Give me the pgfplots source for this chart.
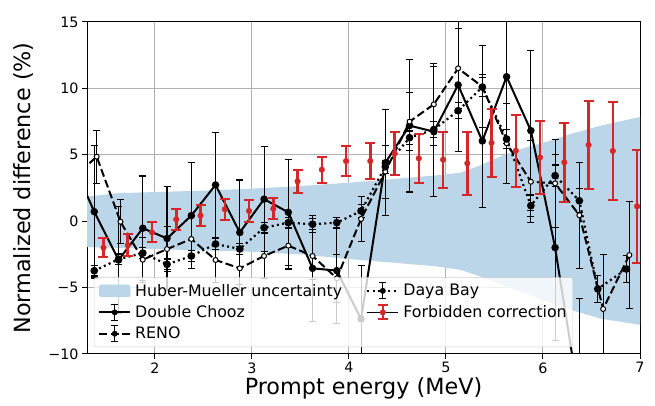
\documentclass[border=0pt]{standalone}
\usepackage{fontspec}
\setmainfont{DejaVu Sans}
\usepackage{pgfplots}
\usepackage{pgfplotstable}
\pgfplotsset{compat=1.18}
\usepgfplotslibrary{fillbetween}

\definecolor{hmblue}{RGB}{188,214,233}
\definecolor{fcred}{RGB}{214,39,40}
\definecolor{gridgray}{RGB}{176,176,176}
\definecolor{legedge}{RGB}{204,204,204}

% Huber-Mueller band
\pgfplotstableread{
x    hi    lo
1.2  1.85  -1.95
1.3  1.85  -1.95
1.6  2.10  -2.00
2.0  2.20  -2.10
2.5  2.30  -2.20
3.0  2.45  -2.30
3.5  2.65  -2.50
4.0  2.90  -2.85
4.5  3.20  -3.15
4.9  3.45  -3.40
5.15 3.65  -3.67
5.35 4.20  -4.15
5.6  5.00  -4.85
5.8  5.50  -5.40
6.0  5.90  -5.95
6.3  6.60  -6.70
6.6  7.20  -7.35
7.0  7.85  -7.80
}\hmtable

\pgfplotstableread{
x     y      e
1.125 4.80   5.0
1.375 0.72   5.0
1.625 -2.92  4.0
1.875 -0.53  3.93
2.125 -1.30  3.9
2.375 0.42   4.0
2.625 2.73   3.96
2.875 -0.85  3.95
3.125 1.66   3.95
3.375 0.67   4.0
3.625 -3.55  4.0
3.875 -3.72  4.0
4.125 -7.36  4.0
4.375 4.40   4.0
4.625 7.20   5.0
4.875 6.74   4.9
5.125 10.26  5.0
5.375 6.04   5.0
5.625 10.88  5.0
5.875 6.82   6.0
6.125 -1.99  7.0
6.375 -13.5  7.7
}\dctable

\pgfplotstableread{
x     y      e
1.15  3.20   2.0
1.40  4.86   2.0
1.645 -0.04  1.65
1.875 -2.90  1.7
2.125 -2.10  1.7
2.375 -1.34  1.7
2.625 -2.92  1.7
2.875 -3.55  1.65
3.125 -2.62  1.7
3.375 -1.84  1.76
3.625 -2.62  1.8
3.875 -4.30  1.8
4.125 0.17   1.7
4.375 3.73   2.0
4.625 7.50   2.2
4.875 8.80   3.1
5.125 11.51  3.0
5.375 10.13  3.1
5.625 5.87   3.0
5.875 2.97   3.1
6.125 2.85   3.3
6.375 0.45   4.0
6.62  -6.61  4.1
6.89  -2.55  4.0
}\renotable

\pgfplotstableread{
x     y      e
1.375 -3.73  0.4
1.625 -2.87  0.4
1.875 -2.40  0.4
2.125 -3.25  0.4
2.375 -2.62  0.4
2.625 -1.72  0.4
2.875 -2.09  0.4
3.125 -0.49  0.4
3.375 -0.11  0.4
3.625 -0.23  0.4
3.875 -0.11  0.4
4.125 0.77   0.5
4.375 4.10   0.5
4.625 6.29   0.5
4.875 6.90   0.6
5.125 8.32   0.6
5.375 10.10  0.7
5.625 6.19   0.7
5.875 1.17   0.8
6.125 3.43   0.8
6.375 1.54   0.9
6.565 -5.10  1.0
6.86  -3.60  1.0
}\dbtable

\pgfplotstableread{
x     y      e
1.47  -2.00  0.72
1.72  -1.80  0.80
1.97  -0.84  0.75
2.22  0.14   0.80
2.47  0.42   0.80
2.72  0.90   0.78
2.97  0.77   0.80
3.22  0.94   0.80
3.47  3.00   0.88
3.72  3.88   0.98
3.97  4.53   1.15
4.22  4.53   1.38
4.47  5.10   1.60
4.72  4.73   1.87
4.97  4.63   2.10
5.22  4.36   2.36
5.47  5.90   2.56
5.72  5.31   2.70
5.97  4.81   2.77
6.22  4.43   2.95
6.47  5.74   3.30
6.72  5.29   3.70
6.97  1.12   4.27
}\fctable

\begin{document}
\begin{tikzpicture}
\begin{axis}[
  at={(87pt,52pt)}, anchor=south west,
  scale only axis, width=553pt, height=332pt,
  set layers,
  xmin=1.3, xmax=7, ymin=-10, ymax=15,
  xtick={2,3,4,5,6,7},
  ytick={-10,-5,0,5,10,15},
  yticklabels={−10,−5,0,5,10,15},
  /pgf/number format/assume math mode=true,
  tick pos=left, tick align=outside,
  major tick length=5pt,
  every tick/.style={black, line width=1pt},
  axis line style={line width=1pt},
  grid=major,
  grid style={gridgray, line width=1pt},
  tick label style={font=\fontsize{14.3}{16}\selectfont},
  label style={font=\fontsize{22.3}{26}\selectfont},
  xlabel={Prompt energy (MeV)},
  ylabel={Normalized difference (\%)},
  xlabel style={at={(axis description cs:0.5,-0.102)}, anchor=center},
  ylabel style={at={(axis description cs:-0.114,0.5)}, anchor=center},
  legend columns=2,
  legend cell align=left,
  legend style={at={(0.0127,0.021)}, anchor=south west,
    draw=legedge, fill=white, fill opacity=0.8, text opacity=1,
    rounded corners=2pt, font=\fontsize{15.8}{19}\selectfont,
    inner xsep=4pt, inner ysep=4.5pt, row sep=4pt,
    /tikz/every odd column/.append style={column sep=2pt},
    /tikz/every even column/.append style={column sep=22pt}},
]

% band
\addplot[name path=hmtop, draw=none, forget plot] table[x=x, y=hi] {\hmtable};
\addplot[name path=hmbot, draw=none, forget plot] table[x=x, y=lo] {\hmtable};
\addplot[fill=hmblue, draw=none, forget plot, on layer=axis background]
  fill between[of=hmtop and hmbot];

% Double Chooz
\addplot[black, line width=2pt, mark=*, mark size=2.7pt, mark options={solid, fill=black},
  forget plot,
  error bars/.cd, y dir=both, y explicit,
  error bar style={line width=1.1pt, solid, black},
  error mark options={rotate=90, mark size=3.5pt, line width=1.1pt, solid, black}]
  table[x=x, y=y, y error=e] {\dctable};

% RENO
\addplot[black, line width=2pt, dash pattern=on 8pt off 3.5pt,
  mark=*, mark size=2.5pt, mark options={solid, fill=white, line width=1pt},
  forget plot,
  error bars/.cd, y dir=both, y explicit,
  error bar style={line width=1.1pt, solid, black},
  error mark options={rotate=90, mark size=3.5pt, line width=1.1pt, solid, black}]
  table[x=x, y=y, y error=e] {\renotable};

% Daya Bay
\addplot[black, line width=2.2pt, dash pattern=on 2pt off 3.3pt,
  mark=*, mark size=2.7pt, mark options={solid, fill=black},
  forget plot,
  error bars/.cd, y dir=both, y explicit,
  error bar style={line width=1.1pt, solid, black},
  error mark options={rotate=90, mark size=3.5pt, line width=1.1pt, solid, black}]
  table[x=x, y=y, y error=e] {\dbtable};

% Forbidden correction
\addplot[only marks, fcred, mark=*, mark size=2.8pt, mark options={fill=fcred},
  forget plot,
  error bars/.cd, y dir=both, y explicit,
  error bar style={line width=2.5pt, fcred},
  error mark options={rotate=90, mark size=5pt, line width=2pt, fcred}]
  table[x=x, y=y, y error=e] {\fctable};

% legend (row-wise: HM, DB / DC, FC / RENO)
\addlegendimage{legend image code/.code={
  \fill[hmblue, fill opacity=1] (0pt,-6pt) rectangle (31pt,6pt);}}
\addlegendentry{Huber-Mueller uncertainty}
\addlegendimage{legend image code/.code={
  \draw[black, line width=2.2pt, dash pattern=on 2pt off 3.3pt] (0pt,0pt) -- (31pt,0pt);
  \draw[black, line width=1.1pt] (15.5pt,-8pt) -- (15.5pt,8pt)
     (12pt,-8pt) -- (19pt,-8pt) (12pt,8pt) -- (19pt,8pt);
  \fill[black, fill opacity=1] (15.5pt,0pt) circle (2.7pt);}}
\addlegendentry{Daya Bay}
\addlegendimage{legend image code/.code={
  \draw[black, line width=2pt] (0pt,0pt) -- (31pt,0pt);
  \draw[black, line width=1.1pt] (15.5pt,-8pt) -- (15.5pt,8pt)
     (12pt,-8pt) -- (19pt,-8pt) (12pt,8pt) -- (19pt,8pt);
  \fill[black, fill opacity=1] (15.5pt,0pt) circle (2.7pt);}}
\addlegendentry{Double Chooz}
\addlegendimage{legend image code/.code={
  \path (0pt,0pt) -- (31pt,0pt);
  \draw[fcred, line width=2.5pt] (15.5pt,-7pt) -- (15.5pt,7pt);
  \draw[fcred, line width=2pt] (10.5pt,-7pt) -- (20.5pt,-7pt) (10.5pt,7pt) -- (20.5pt,7pt);
  \fill[fcred, fill opacity=1] (15.5pt,0pt) circle (2.8pt);}}
\addlegendentry{Forbidden correction}
\addlegendimage{legend image code/.code={
  \draw[black, line width=2pt, dash pattern=on 8pt off 3.5pt] (0pt,0pt) -- (31pt,0pt);
  \draw[black, line width=1.1pt] (15.5pt,-8pt) -- (15.5pt,8pt)
     (12pt,-8pt) -- (19pt,-8pt) (12pt,8pt) -- (19pt,8pt);
  \fill[black, fill opacity=1] (15.5pt,0pt) circle (2.7pt);}}
\addlegendentry{RENO}

\end{axis}
\pgfresetboundingbox
\useasboundingbox (0,0) rectangle (655pt,406pt);
\end{tikzpicture}
\end{document}
